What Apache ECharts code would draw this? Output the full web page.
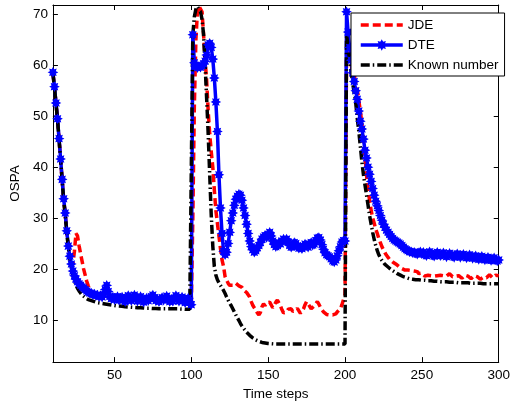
<!DOCTYPE html>
<html>
<head>
<meta charset="utf-8">
<script src="https://cdn.jsdelivr.net/npm/echarts@6/dist/echarts.min.js"></script>
<style>
html,body{margin:0;padding:0;background:#fff;}
#chart{width:513px;height:406px;}
</style>
</head>
<body>
<div id="chart"></div>
<script>
// Time steps start at 10 and run to 300 (one value per step)
const firstStep = 10;
const xTicks = [50, 100, 150, 200, 250, 300];
const yTicks = [10, 20, 30, 40, 50, 60, 70];

const jde = [
  58.5, 55.7, 52.5, 49.4, 45.5, 41.5, 37.5, 33.6, 30.8, 27.4,
  24.4, 22.2, 20.5, 21.0, 23.5, 27.0, 26.5, 24.6, 23.0, 21.5,
  20.0, 18.8, 17.6, 16.7, 16.0, 15.5, 15.1, 14.8, 14.6, 14.5,
  14.3, 14.4, 14.2, 14.6, 15.2, 15.6, 15.0, 14.3, 14.0, 14.2,
  13.8, 14.0, 14.3, 13.7, 13.9, 14.2, 13.8, 13.5, 13.9, 14.4,
  14.0, 13.6, 14.1, 14.5, 13.9, 13.5, 13.8, 14.3, 13.7, 13.4,
  13.8, 14.0, 13.6, 13.9, 14.3, 14.5, 14.0, 13.6, 13.8, 13.4,
  13.8, 14.1, 13.7, 13.9, 14.3, 13.8, 13.4, 13.7, 13.5, 14.0,
  14.4, 13.9, 13.5, 13.8, 14.2, 13.7, 13.3, 13.6, 14.0, 13.4,
  12.6, 30.0, 52.0, 65.0, 70.5, 71.6, 71.7, 70.5, 66.0, 61.0,
  57.0, 51.0, 46.5, 43.0, 40.0, 35.5, 31.5, 29.0, 26.5, 24.0,
  21.8, 20.5, 18.5, 17.8, 17.2, 16.8, 16.5, 16.8, 17.0, 17.2,
  16.9, 16.7, 16.8, 16.4, 15.9, 15.6, 15.4, 15.2, 14.5, 13.6,
  12.9, 12.4, 12.0, 11.4, 11.0, 11.5, 12.6, 13.2, 12.8, 13.4,
  13.7, 13.5, 13.2, 12.4, 12.9, 13.5, 13.9, 13.6, 12.8, 12.0,
  11.4, 11.2, 11.6, 12.1, 12.4, 12.2, 11.7, 11.5, 11.9, 12.3,
  11.8, 11.3, 11.5, 12.2, 13.0, 13.6, 13.3, 12.7, 12.2, 12.3,
  12.8, 13.2, 13.6, 13.1, 12.5, 12.0, 11.6, 11.4, 11.1, 10.9,
  11.0, 11.3, 11.0, 10.8, 11.2, 11.6, 11.9, 12.2, 13.0, 14.0,
  15.0, 62.0, 64.5, 62.0, 60.0, 58.8, 58.0, 56.5, 55.2, 53.0,
  51.0, 48.5, 45.5, 42.0, 38.5, 35.5, 33.5, 31.5, 30.0, 29.0,
  27.8, 27.0, 26.0, 25.2, 24.4, 23.8, 23.2, 22.7, 22.3, 21.9,
  21.6, 21.4, 21.2, 21.0, 20.8, 20.5, 20.3, 20.1, 20.0, 19.8,
  19.6, 19.8, 20.0, 19.7, 19.4, 19.6, 19.9, 19.5, 19.1, 18.9,
  19.2, 19.0, 18.6, 18.5, 18.8, 19.0, 18.7, 18.4, 18.6, 18.9,
  18.7, 18.5, 18.8, 19.0, 18.7, 18.4, 18.6, 18.9, 19.1, 18.8,
  18.5, 18.3, 18.6, 18.9, 18.7, 18.4, 18.2, 18.5, 18.8, 19.0,
  18.6, 18.3, 18.1, 18.4, 18.7, 18.9, 18.5, 18.2, 18.0, 18.2,
  18.4, 18.1, 18.3, 18.6, 18.9, 18.6, 18.3, 18.5, 18.8, 18.6,
  18.7
];

const dte = [
  58.6, 55.8, 52.6, 49.5, 45.6, 41.6, 37.6, 33.8, 31.0, 27.5,
  24.5, 22.5, 21.0, 19.6, 18.7, 18.0, 17.5, 17.1, 16.8, 16.5,
  16.3, 16.0, 15.7, 15.5, 15.3, 15.2, 15.0, 15.1, 14.8, 14.9,
  14.6, 14.8, 14.5, 15.0, 16.0, 16.8, 15.6, 14.6, 14.2, 14.5,
  14.0, 14.3, 14.6, 13.9, 14.2, 14.5, 14.0, 13.6, 14.2, 14.8,
  14.3, 13.8, 14.4, 14.9, 14.2, 13.7, 14.1, 14.6, 13.9, 13.5,
  14.0, 14.3, 13.8, 14.2, 14.6, 14.9, 14.3, 13.8, 14.1, 13.6,
  14.0, 14.4, 13.9, 14.2, 14.7, 14.1, 13.6, 14.0, 13.7, 14.3,
  14.8, 14.2, 13.7, 14.1, 14.5, 13.9, 13.4, 13.8, 14.3, 13.6,
  13.0, 66.0, 60.5, 59.8, 59.5, 59.8, 59.6, 59.9, 60.3, 60.8,
  62.0, 64.0, 64.3, 63.5, 61.2, 57.5, 52.8, 47.0, 38.5, 32.0,
  27.0, 23.5, 22.8, 23.3, 25.0, 27.2, 29.5, 31.0, 32.5, 33.7,
  34.3, 34.7, 34.5, 33.5, 32.0, 30.5, 28.8, 27.0, 25.5, 24.4,
  23.8, 23.3, 23.6, 24.2, 24.6, 25.2, 25.9, 26.3, 26.6, 26.2,
  26.8, 27.2, 26.5, 25.5, 24.8, 24.4, 24.6, 25.2, 24.9, 25.5,
  25.9, 25.6, 25.9, 25.3, 24.6, 24.3, 24.6, 25.2, 25.0, 24.4,
  24.1, 24.3, 24.0, 24.5, 24.9, 24.6, 24.3, 24.9, 25.2, 24.7,
  24.9, 25.6, 26.1, 26.2, 25.7, 24.8, 23.9, 23.2, 22.8, 22.6,
  22.4, 22.0, 21.6, 21.4, 21.8, 22.6, 23.6, 24.4, 25.3, 25.6,
  25.5, 70.5, 66.5, 63.5, 61.0, 58.5, 56.8, 55.0, 53.3, 51.0,
  49.0, 47.5, 45.5, 43.3, 41.8, 40.0, 38.6, 37.2, 35.8, 34.5,
  33.3, 32.4, 31.5, 30.5, 29.6, 28.8, 28.2, 27.6, 27.2, 26.8,
  26.4, 26.0, 25.7, 25.5, 25.3, 25.1, 24.9, 24.6, 24.3, 24.0,
  23.8, 23.6, 23.4, 23.4, 23.2, 23.3, 23.1, 22.9, 23.2, 23.4,
  23.0, 23.3, 22.8, 22.6, 23.0, 23.4, 23.1, 22.7, 22.5, 22.9,
  23.3, 22.9, 22.6, 22.8, 23.2, 22.8, 22.4, 22.7, 23.1, 22.8,
  22.5, 22.3, 22.7, 23.0, 22.6, 22.3, 22.6, 22.9, 22.5, 22.2,
  22.4, 22.8, 22.5, 22.1, 22.3, 22.6, 22.2, 21.9, 22.2, 22.5,
  22.1, 21.8, 22.0, 22.3, 22.0, 21.7, 21.9, 22.2, 21.8, 21.6,
  21.8
];

const known = [
  58.4, 55.6, 52.4, 49.3, 45.4, 41.4, 37.4, 33.5, 30.6, 27.3,
  24.3, 22.0, 20.2, 18.8, 17.7, 16.9, 16.2, 15.7, 15.3, 14.9,
  14.6, 14.4, 14.2, 14.0, 13.9, 13.8, 13.7, 13.6, 13.5, 13.4,
  13.35, 13.3, 13.25, 13.2, 13.15, 13.1, 13.05, 13.0, 12.95, 12.9,
  12.85, 12.8, 12.8, 12.75, 12.7, 12.7, 12.65, 12.6, 12.6, 12.55,
  12.5, 12.5, 12.5, 12.45, 12.45, 12.4, 12.4, 12.4, 12.35, 12.35,
  12.35, 12.3, 12.3, 12.3, 12.3, 12.25, 12.25, 12.25, 12.25, 12.2,
  12.2, 12.2, 12.2, 12.2, 12.2, 12.2, 12.2, 12.2, 12.2, 12.2,
  12.2, 12.2, 12.2, 12.15, 12.15, 12.15, 12.15, 12.1, 12.1, 12.1,
  12.1, 66.0, 69.5, 71.0, 71.5, 71.2, 70.5, 69.0, 66.0, 60.0,
  53.5, 46.5, 38.5, 30.5, 24.5, 20.5, 18.8, 17.9, 17.3, 16.8,
  16.3, 15.8, 15.2, 14.5, 13.9, 13.3, 12.8, 12.2, 11.6, 11.0,
  10.4, 9.9, 9.3, 8.8, 8.4, 8.0, 7.6, 7.3, 7.0, 6.8,
  6.5, 6.3, 6.1, 5.95, 5.8, 5.7, 5.6, 5.55, 5.5, 5.45,
  5.4, 5.4, 5.35, 5.35, 5.3, 5.3, 5.3, 5.3, 5.3, 5.3,
  5.3, 5.3, 5.3, 5.3, 5.3, 5.3, 5.3, 5.3, 5.3, 5.3,
  5.3, 5.3, 5.3, 5.3, 5.3, 5.3, 5.3, 5.3, 5.3, 5.3,
  5.3, 5.3, 5.3, 5.3, 5.3, 5.3, 5.3, 5.3, 5.3, 5.3,
  5.3, 5.3, 5.3, 5.3, 5.3, 5.3, 5.3, 5.3, 5.3, 5.3,
  5.3, 66.0, 63.5, 61.0, 58.5, 56.5, 54.5, 52.5, 49.5, 47.0,
  44.0, 41.0, 38.5, 36.5, 34.5, 32.5, 30.5, 28.8, 27.2, 25.8,
  24.6, 23.6, 22.8, 22.2, 21.7, 21.3, 20.9, 20.6, 20.4, 20.1,
  19.9, 19.7, 19.5, 19.3, 19.1, 18.9, 18.8, 18.6, 18.5, 18.4,
  18.3, 18.2, 18.1, 18.1, 18.0, 18.0, 17.9, 17.9, 17.9, 17.8,
  17.8, 17.8, 17.8, 17.7, 17.7, 17.7, 17.7, 17.6, 17.6, 17.6,
  17.6, 17.6, 17.5, 17.5, 17.5, 17.5, 17.5, 17.5, 17.4, 17.4,
  17.4, 17.4, 17.4, 17.4, 17.3, 17.3, 17.3, 17.3, 17.3, 17.3,
  17.3, 17.2, 17.2, 17.2, 17.2, 17.2, 17.2, 17.2, 17.2, 17.1,
  17.1, 17.1, 17.1, 17.1, 17.1, 17.1, 17.1, 17.1, 17.1, 17.1,
  17.1
];

const toPairs = arr => arr.map((v, i) => [firstStep + i, v]);

const FONT = 'Liberation Sans, Arial, Helvetica, sans-serif';
const starPath = 'path://M20 10 L15.54 12.30 L17.07 17.07 L12.30 15.54 L10 20 L7.70 15.54 L2.93 17.07 L4.46 12.30 L0 10 L4.46 7.70 L2.93 2.93 L7.70 4.46 L10 0 L12.30 4.46 L17.07 2.93 L15.54 7.70 Z';

const chart = echarts.init(document.getElementById('chart'), null, {renderer: 'canvas'});

const axisCommon = {
  type: 'value',
  axisLine: {show: true, onZero: false, lineStyle: {color: '#000', width: 1}},
  splitLine: {show: false},
  axisTick: {show: true, inside: true, length: 5, lineStyle: {color: '#000', width: 1}},
  axisLabel: {color: '#000', fontSize: 13.5, fontFamily: FONT}
};

chart.setOption({
  animation: false,
  backgroundColor: '#fff',
  grid: {left: 48, top: 5, right: 11, bottom: 42, containLabel: false},
  legend: {
    orient: 'vertical',
    left: 351, top: 13,
    padding: [5, 6, 4, 8],
    itemGap: 6,
    itemWidth: 42, itemHeight: 9,
    borderColor: '#000', borderWidth: 1,
    backgroundColor: '#fff',
    textStyle: {fontSize: 13.5, fontFamily: FONT, color: '#000'},
    data: [
      {name: 'JDE', itemStyle: {opacity: 0},
       lineStyle: {color: '#ff0000', width: 3.5, type: [8, 4], cap: 'butt'}},
      {name: 'DTE',
       lineStyle: {color: '#0000ff', width: 3.5, type: 'solid'}},
      {name: 'Known number', itemStyle: {opacity: 0},
       lineStyle: {color: '#000000', width: 3.5, type: [9, 3, 1.5, 3], cap: 'butt'}}
    ]
  },
  xAxis: [
    Object.assign({}, axisCommon, {
      position: 'bottom', min: 10, max: 300,
      name: 'Time steps', nameLocation: 'middle', nameGap: 21,
      nameTextStyle: {fontSize: 13.5, fontFamily: FONT, color: '#000'},
      axisTick: Object.assign({}, axisCommon.axisTick, {customValues: xTicks}),
      axisLabel: Object.assign({}, axisCommon.axisLabel, {customValues: xTicks, margin: 6})
    }),
    Object.assign({}, axisCommon, {
      position: 'top', min: 10, max: 300,
      axisTick: Object.assign({}, axisCommon.axisTick, {customValues: xTicks}),
      axisLabel: {show: false}
    })
  ],
  yAxis: [
    Object.assign({}, axisCommon, {
      position: 'left', min: 1.74, max: 71.82,
      name: 'OSPA', nameLocation: 'middle', nameGap: 26, nameRotate: 90,
      nameTextStyle: {fontSize: 13.5, fontFamily: FONT, color: '#000'},
      axisTick: Object.assign({}, axisCommon.axisTick, {customValues: yTicks}),
      axisLabel: Object.assign({}, axisCommon.axisLabel, {customValues: yTicks, margin: 5})
    }),
    Object.assign({}, axisCommon, {
      position: 'right', min: 1.74, max: 71.82,
      axisTick: Object.assign({}, axisCommon.axisTick, {customValues: yTicks}),
      axisLabel: {show: false}
    })
  ],
  series: [
    {
      name: 'JDE', type: 'line', data: toPairs(jde),
      xAxisIndex: 0, yAxisIndex: 0,
      symbol: 'none', showSymbol: false,
      lineStyle: {color: '#ff0000', width: 3.5, type: [8, 4], cap: 'butt'},
      itemStyle: {color: '#ff0000'}
    },
    {
      name: 'DTE', type: 'line', data: toPairs(dte),
      xAxisIndex: 0, yAxisIndex: 0,
      symbol: starPath, symbolSize: 8, showSymbol: true, showAllSymbol: true,
      lineStyle: {color: '#0000ff', width: 3.5, type: 'solid'},
      itemStyle: {color: '#0000ff', borderColor: '#0000ff', borderWidth: 1.2}
    },
    {
      name: 'Known number', type: 'line', data: toPairs(known),
      xAxisIndex: 0, yAxisIndex: 0,
      symbol: 'none', showSymbol: false,
      lineStyle: {color: '#000000', width: 3.5, type: [9, 3, 1.5, 3], cap: 'butt'},
      itemStyle: {color: '#000000'}
    }
  ]
});
</script>
</body>
</html>
